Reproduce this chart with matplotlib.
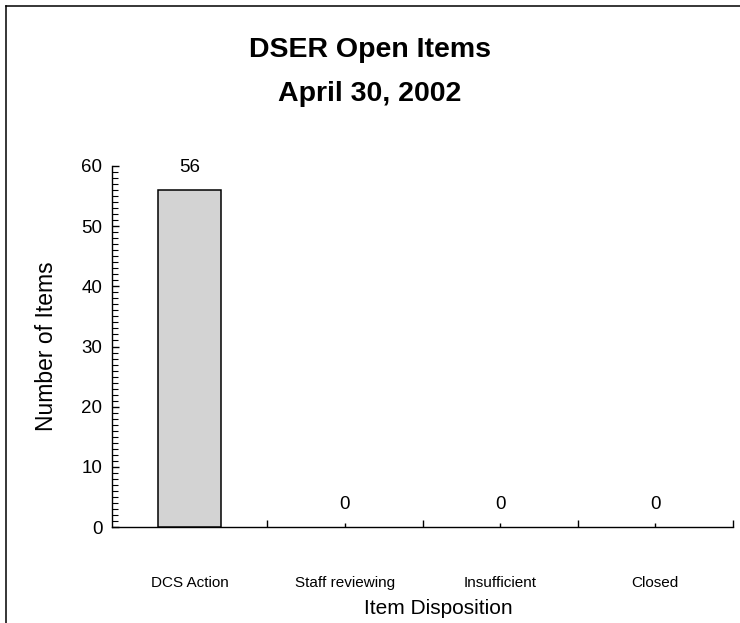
import matplotlib
matplotlib.use('Agg')
import matplotlib.pyplot as plt
from matplotlib.lines import Line2D
import numpy as np

# chart data
categories = ['DCS Action', 'Staff reviewing', 'Insufficient', 'Closed']
counts = [56, 0, 0, 0]
title_lines = ['DSER Open Items', 'April 30, 2002']

plt.rcParams['font.family'] = ['Liberation Sans', 'DejaVu Sans']

fig = plt.figure(figsize=(7.4, 6.23), dpi=100)
ax = fig.add_axes([112 / 740, 1 - 527 / 623, 621 / 740, 361 / 623])

x = np.arange(len(categories))
bars = ax.bar(x, counts, width=0.41, color='#d3d3d3', edgecolor='black', linewidth=1.1, zorder=3)
# zero-height bars leave no outline on the axis
for b, v in zip(bars, counts):
    if v == 0:
        b.set_linewidth(0)

# value labels above bars
for xi, v in zip(x, counts):
    ax.annotate(str(v), (xi, v), xytext=(0, 10), textcoords='offset points',
                ha='center', va='bottom', fontsize=13.5)

ax.set_xlim(-0.5, len(categories) - 0.5)
ax.set_ylim(0, 60)

# y axis: majors every 10, minors every 1, ticks inside
ax.set_yticks(np.arange(0, 61, 10))
ax.set_yticks(np.arange(0, 61, 1), minor=True)
ax.tick_params(axis='y', which='major', direction='in', length=5, width=1, labelsize=13.5, pad=7)
ax.tick_params(axis='y', which='minor', direction='in', length=4, width=0.8)

# x axis: separators as major ticks, category labels on minor ticks
ax.set_xticks(np.arange(0.5, len(categories), 1))
ax.set_xticklabels([])
ax.set_xticks(x, minor=True)
ax.set_xticklabels(categories, minor=True)
ax.tick_params(axis='x', which='major', direction='in', length=5, width=1)
ax.tick_params(axis='x', which='minor', direction='in', length=3, width=1, labelsize=11, pad=35)

for side in ['top', 'right']:
    ax.spines[side].set_visible(False)
for side in ['left', 'bottom']:
    ax.spines[side].set_linewidth(1)

fig.text(47 / 740, 1 - 346 / 623, 'Number of Items', rotation=90, ha='center', va='center', fontsize=16.5)
fig.text(438 / 740, 1 - 608 / 623, 'Item Disposition', ha='center', va='center', fontsize=15)

fig.text(0.5, 1 - 50 / 623, title_lines[0], ha='center', va='center', fontsize=20.5, fontweight='bold')
fig.text(0.5, 1 - 94 / 623, title_lines[1], ha='center', va='center', fontsize=20.5, fontweight='bold')

# outer chart frame (only top and left visible in the crop)
fig.add_artist(Line2D([5.5 / 740, 1], [1 - 5.5 / 623, 1 - 5.5 / 623], transform=fig.transFigure, color='black', linewidth=1.1))
fig.add_artist(Line2D([5.5 / 740, 5.5 / 740], [0, 1 - 5.5 / 623], transform=fig.transFigure, color='black', linewidth=1.1))

fig.savefig('out.png', dpi=100)
